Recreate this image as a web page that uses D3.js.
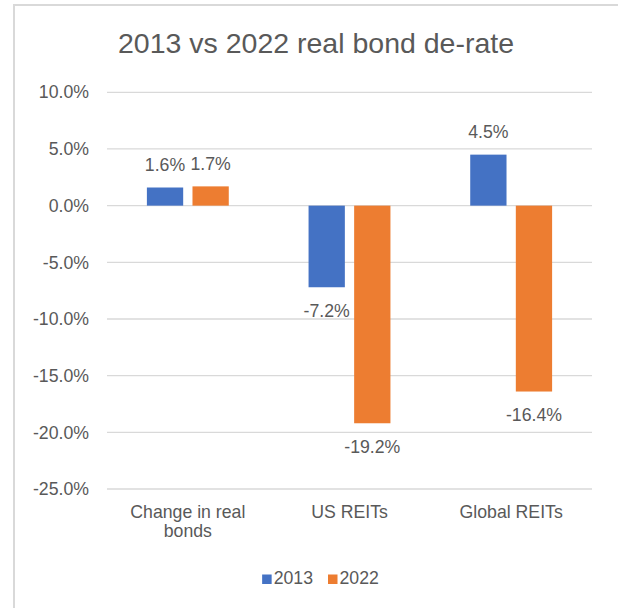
<!DOCTYPE html>
<html>
<head>
<meta charset="utf-8">
<script src="https://cdn.jsdelivr.net/npm/d3@7"></script>
<style>
  body { margin: 0; background: #fff; }
  text { font-family: "Liberation Sans", Arial, sans-serif; fill: #595959; }
</style>
</head>
<body>
<div id="chart"></div>
<script>
var categories = ["Change in real|bonds", "US REITs", "Global REITs"];
var seriesNames = ["2013", "2022"];
var values2013 = [1.6, -7.2, 4.5];
var values2022 = [1.7, -19.2, -16.4];
var yTicks = [10, 5, 0, -5, -10, -15, -20, -25];
var colors = ["#4472C4", "#ED7D31"];

var width = 618, height = 608;

var svg = d3.select("#chart").append("svg")
    .attr("width", width)
    .attr("height", height);

// chart area border (only left and top are visible)
svg.append("rect")
    .attr("x", 14).attr("y", 5)
    .attr("width", 700).attr("height", 700)
    .style("fill", "none")
    .style("stroke", "#d9d9d9")
    .style("stroke-width", 2);

svg.append("text")
    .attr("x", 316).attr("y", 52.5)
    .attr("text-anchor", "middle")
    .style("font-size", "28.5px")
    .text("2013 vs 2022 real bond de-rate");

var plotLeft = 107, plotRight = 592;

var y = d3.scaleLinear().domain([-25, 10]).range([489, 92.3]);

var x0 = d3.scaleBand().domain(categories).range([plotLeft, plotRight]);
var x1 = d3.scaleBand().domain(seriesNames).range([0, x0.bandwidth()])
    .paddingInner(0.204).paddingOuter(0.875);

var pct = d3.format(".1%");
var fmt = function(v) { return pct(v).replace("\u2212", "-"); };

// gridlines
svg.selectAll(".grid")
  .data(yTicks)
  .enter().append("line")
    .attr("class", "grid")
    .attr("x1", plotLeft).attr("x2", plotRight)
    .attr("y1", function(d) { return y(d); })
    .attr("y2", function(d) { return y(d); })
    .style("stroke", "#d9d9d9")
    .style("stroke-width", 1.3);

// y labels
svg.selectAll(".ylab")
  .data(yTicks)
  .enter().append("text")
    .attr("class", "ylab")
    .attr("x", 89)
    .attr("y", function(d) { return y(d); })
    .attr("dy", "0.35em")
    .attr("text-anchor", "end")
    .style("font-size", "17.7px")
    .text(function(d) { return fmt(d / 100); });

var rows = [];
categories.forEach(function(c, i) {
  rows.push({cat: c, series: 0, value: values2013[i]});
  rows.push({cat: c, series: 1, value: values2022[i]});
});

svg.selectAll(".bar")
  .data(rows)
  .enter().append("rect")
    .attr("class", "bar")
    .attr("x", function(d) { return x0(d.cat) + x1(seriesNames[d.series]); })
    .attr("width", x1.bandwidth())
    .attr("y", function(d) { return y(Math.max(0, d.value)); })
    .attr("height", function(d) { return Math.abs(y(d.value) - y(0)); })
    .style("fill", function(d) { return colors[d.series]; });

svg.selectAll(".vlab")
  .data(rows)
  .enter().append("text")
    .attr("class", "vlab")
    .attr("x", function(d) { return x0(d.cat) + x1(seriesNames[d.series]) + x1.bandwidth() / 2; })
    .attr("y", function(d) { return d.value >= 0 ? y(d.value) - 16.5 : y(d.value) + 29.3; })
    .attr("text-anchor", "middle")
    .style("font-size", "17.7px")
    .text(function(d) { return fmt(d.value / 100); });

// category labels
var catLab = svg.selectAll(".xlab")
  .data(categories)
  .enter().append("text")
    .attr("class", "xlab")
    .attr("text-anchor", "middle")
    .style("font-size", "17.7px");

catLab.each(function(d) {
  var lines = d.split("|");
  var t = d3.select(this);
  lines.forEach(function(l, i) {
    t.append("tspan")
      .attr("x", x0(d) + x0.bandwidth() / 2)
      .attr("y", 517.5 + i * 19)
      .text(l);
  });
});

// legend
var legend = svg.append("g");
var lx = 0;
seriesNames.forEach(function(s, i) {
  var g = legend.append("g").attr("transform", "translate(" + lx + ",0)");
  g.append("rect")
    .attr("x", 0).attr("y", 574.5)
    .attr("width", 9.5).attr("height", 9.5)
    .style("fill", colors[i]);
  var t = g.append("text")
    .attr("x", 11.5).attr("y", 584)
    .style("font-size", "17.7px")
    .text(s);
  lx += 11.5 + t.node().getComputedTextLength() + 15;
});
var lw = lx - 15;
legend.attr("transform", "translate(" + (320.5 - lw / 2) + ",0)");
</script>
</body>
</html>
